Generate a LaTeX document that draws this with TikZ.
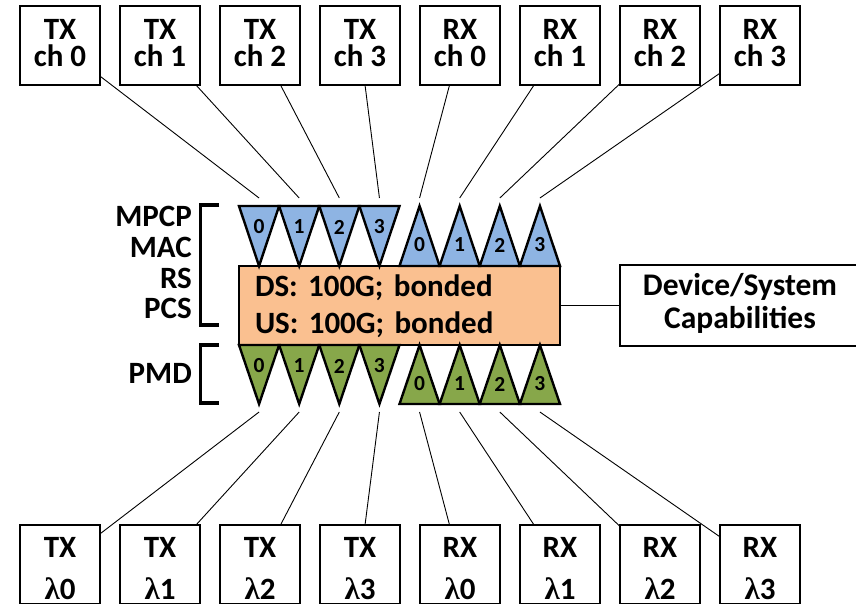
\documentclass[tikz,border=0pt]{standalone}
\usepackage{fontspec}
\setmainfont{Carlito}
\newfontfamily\lamfont{Liberation Serif}
\usetikzlibrary{calc}
\frenchspacing
\newcommand\topstrut[1]{\rule{0pt}{#1pt}}
\newcommand\botstrut[1]{\rule[-#1pt]{0pt}{#1pt}}
\definecolor{triblue}{HTML}{8EB4E3}
\definecolor{trigreen}{HTML}{87A74A}
\definecolor{caporange}{HTML}{FAC090}
\begin{document}
\begin{tikzpicture}[x=1pt,y=-1pt,
  chbox/.style={draw, line width=1.2pt, inner sep=0pt, minimum width=80pt, minimum height=79pt,
    align=center, font=\fontsize{31}{27}\selectfont\bfseries},
  lbox/.style={chbox, font=\fontsize{31}{42}\selectfont\bfseries},
  conn/.style={draw, line width=0.9pt},
  tri/.style={draw, line width=2.4pt, line join=miter},
  dig/.style={inner sep=0pt, font=\fontsize{21.5}{21.5}\selectfont\bfseries},
  side/.style={inner sep=0pt, font=\fontsize{31}{31}\selectfont\bfseries},
  brk/.style={draw, line width=3.6pt, line join=miter},
  capbox/.style={draw, line width=2.2pt, fill=caporange, inner xsep=16pt, inner ysep=0pt,
    text width=289pt, minimum height=79pt, align=left, font=\fontsize{31}{37}\selectfont\bfseries},
  devbox/.style={draw, line width=1.2pt, inner sep=0pt, minimum width=240pt, minimum height=81pt,
    align=center, font=\fontsize{31.5}{33}\selectfont\bfseries}]
\useasboundingbox (0,0) rectangle (856,603);
\clip (0,0) rectangle (856,603);
\fill[white] (0,0) rectangle (856,603);

% channel boxes
\foreach \i in {0,...,3} {
  \node[chbox] (tx\i) at ({60+100*\i},45.5) {\topstrut{24}TX\\ch \i\botstrut{10}};
  \node[chbox] (rx\i) at ({460+100*\i},45.5) {\topstrut{24}RX\\ch \i\botstrut{10}};
  \node[lbox] (tl\i) at ({60+100*\i},564.5) {\topstrut{29}TX\\{\lamfont λ}\i\botstrut{2}};
  \node[lbox] (rl\i) at ({460+100*\i},564.5) {\topstrut{29}RX\\{\lamfont λ}\i\botstrut{2}};
}

% connector targets
\foreach \k in {0,...,7} {
  \coordinate (t\k) at ({239+40.125*(\k+0.5)},198);
  \coordinate (b\k) at ({239+40.125*(\k+0.5)},412);
}

% central capability box
\node[capbox] (caps) at (399.5,305.5) {\topstrut{24}DS: 100G; bonded\\US: 100G; bonded\botstrut{6}};

% triangles
\foreach \k in {0,...,3} {
  \pgfmathsetmacro\xl{239+40.125*\k}
  \pgfmathsetmacro\xr{\xl+40.125}
  \pgfmathsetmacro\xc{\xl+20.0625}
  \filldraw[tri, fill=triblue] (\xl,206) -- (\xr,206) -- (\xc,266) -- cycle;
  \node[dig] (bd\k) at (\xc,227) {\k};
  \filldraw[tri, fill=trigreen] (\xl,345) -- (\xr,345) -- (\xc,404) -- cycle;
  \node[dig] (gd\k) at (\xc,366) {\k};
  \pgfmathsetmacro\yl{239+40.125*(\k+4)}
  \pgfmathsetmacro\yr{\yl+40.125}
  \pgfmathsetmacro\yc{\yl+20.0625}
  \filldraw[tri, fill=triblue] (\yl,266) -- (\yr,266) -- (\yc,206) -- cycle;
  \node[dig] (bu\k) at (\yc,245) {\k};
  \filldraw[tri, fill=trigreen] (\yl,404) -- (\yr,404) -- (\yc,345) -- cycle;
  \node[dig] (gu\k) at (\yc,384) {\k};
}

% connectors
\foreach \i in {0,...,3} {
  \pgfmathtruncatemacro\j{\i+4}
  \draw[conn] (tx\i) -- (t\i);
  \draw[conn] (rx\i) -- (t\j);
  \draw[conn] (tl\i) -- (b\i);
  \draw[conn] (rl\i) -- (b\j);
}

% layer labels and brackets
\node[side, anchor=base east] (lmpcp) at (192,226) {MPCP};
\node[side, anchor=base east] (lmac) at (192,257) {MAC};
\node[side, anchor=base east] (lrs) at (192,288) {RS};
\node[side, anchor=base east] (lpcs) at (192,318) {PCS};
\node[side, anchor=base east] (lpmd) at (192,383) {PMD};
\draw[brk] (219,205) -- (200.5,205) -- (200.5,325) -- (219,325);
\draw[brk] (219,345) -- (200.5,345) -- (200.5,403) -- (219,403);

% device / system capabilities
\node[devbox] (dev) at (740,305.5) {\topstrut{26}Device/System\\Capabilities\botstrut{14}};
\draw[conn] (caps.east) -- (dev.west);
\end{tikzpicture}
\end{document}
